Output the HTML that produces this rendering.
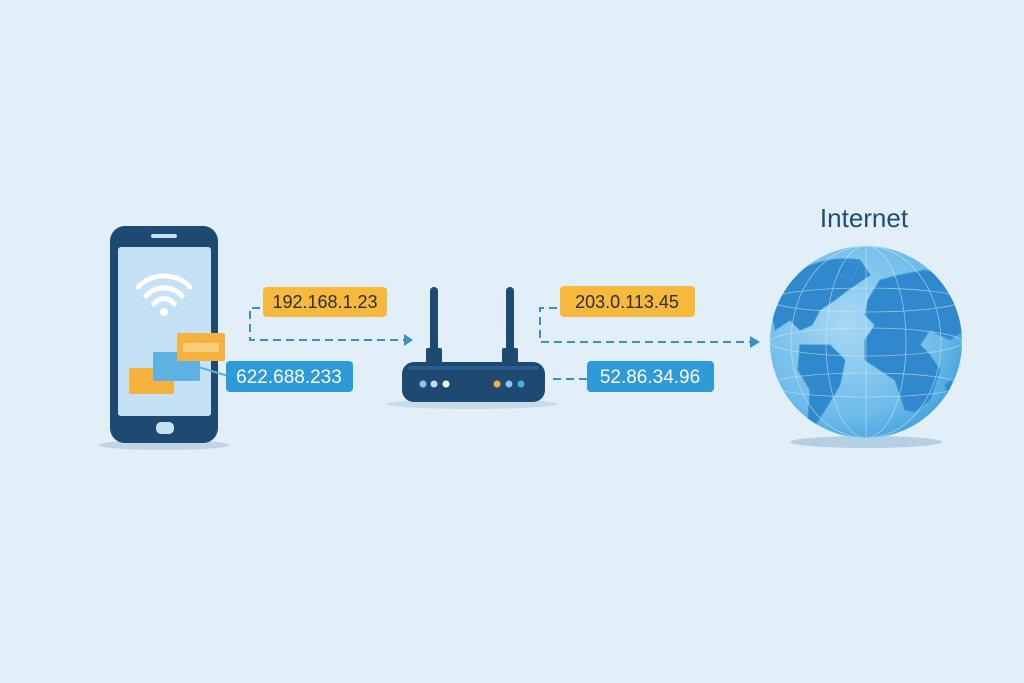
<!DOCTYPE html>
<html><head><style>
html,body{margin:0;padding:0;background:#e2eef8;}
svg{display:block}
text{font-family:"Liberation Sans",sans-serif}
</style></head><body>
<svg width="1024" height="683" viewBox="0 0 1024 683" xmlns="http://www.w3.org/2000/svg">
<defs>
<radialGradient id="g" cx="0.4" cy="0.4" r="0.7">
<stop offset="0" stop-color="#a9d8f3"/><stop offset="0.7" stop-color="#6cbbea"/><stop offset="1" stop-color="#3d9ddb"/>
</radialGradient>
<clipPath id="gc"><circle cx="866" cy="342" r="96"/></clipPath>
</defs>
<rect width="1024" height="683" fill="#e2eef8"/>
<!-- phone -->
<ellipse cx="164" cy="445" rx="66" ry="5" fill="#bfd5e6"/>
<rect x="110" y="226" width="108" height="217" rx="15" fill="#1e4a72"/>
<rect x="118" y="247" width="93" height="169" rx="3" fill="#c5e1f5"/>
<rect x="151" y="234" width="26" height="4" rx="2" fill="#c5e1f5"/>
<rect x="156" y="422" width="18" height="12" rx="5" fill="#c5e1f5"/>
<g fill="none" stroke="#fff" stroke-width="5" stroke-linecap="round">
<path d="M138 287 A36 36 0 0 1 190 287"/>
<path d="M146 296 A24 24 0 0 1 182 296"/>
<path d="M154 304 A12 12 0 0 1 174 304"/>
</g>
<circle cx="164" cy="312" r="4" fill="#fff"/>
<rect x="129" y="368" width="45" height="26" rx="2" fill="#f5b13d"/>
<rect x="153" y="352" width="47" height="29" rx="2" fill="#5eb1e2"/>
<line x1="195" y1="366" x2="228" y2="376" stroke="#5eb1e2" stroke-width="2"/>
<rect x="177" y="333" width="48" height="28" rx="2" fill="#f5b13d"/>
<rect x="183" y="343" width="36" height="9" fill="#f9cd7a"/>
<!-- labels -->
<rect x="263" y="287" width="124" height="30" rx="4" fill="#f6b93b"/>
<text x="325" y="308" font-size="18" text-anchor="middle" fill="#2b2f36">192.168.1.23</text>
<rect x="226" y="361" width="127" height="31" rx="4" fill="#2e9ad8"/>
<text x="289" y="383" font-size="19" text-anchor="middle" fill="#fff">622.688.233</text>
<rect x="560" y="286" width="135" height="31" rx="4" fill="#f6b93b"/>
<text x="627" y="308" font-size="18" text-anchor="middle" fill="#2b2f36">203.0.113.45</text>
<rect x="587" y="361" width="127" height="31" rx="4" fill="#2e9ad8"/>
<text x="650" y="383" font-size="19" text-anchor="middle" fill="#fff">52.86.34.96</text>
<!-- dashed connectors -->
<g fill="none" stroke="#3c8fc6" stroke-width="2" stroke-dasharray="8 5">
<path d="M260 308 H250 V340 H404"/>
<path d="M557 308 H540 V342 H752"/>
<path d="M553 379 H587"/>
</g>
<path d="M404 334 L413 340 L404 346 Z" fill="#3c8fc6"/>
<path d="M750 336 L760 342 L750 348 Z" fill="#3c8fc6"/>
<!-- router -->
<ellipse cx="472" cy="404" rx="86" ry="5" fill="#c7dbea"/>
<rect x="430" y="287" width="8" height="70" rx="4" fill="#1e4a72"/>
<rect x="506" y="287" width="8" height="70" rx="4" fill="#1e4a72"/>
<rect x="426" y="348" width="16" height="16" rx="2" fill="#1e4a72"/>
<rect x="502" y="348" width="16" height="16" rx="2" fill="#1e4a72"/>
<rect x="402" y="362" width="143" height="40" rx="12" fill="#1e4a72"/>
<rect x="408" y="366" width="131" height="4" rx="2" fill="#2c5d8a"/>
<circle cx="423" cy="384" r="3.5" fill="#8cc6ee"/>
<circle cx="434" cy="384" r="3.5" fill="#b8dcf5"/>
<circle cx="446" cy="384" r="3.5" fill="#fff"/>
<circle cx="497" cy="384" r="3.5" fill="#f5b13d"/>
<circle cx="509" cy="384" r="3.5" fill="#8cc6ee"/>
<circle cx="521" cy="384" r="3.5" fill="#3fb3d8"/>
<!-- globe -->
<text x="864" y="227" font-size="26" text-anchor="middle" fill="#1f4d75">Internet</text>
<ellipse cx="866" cy="442" rx="76" ry="6" fill="#b5cfe3"/>
<circle cx="866" cy="342" r="96" fill="url(#g)"/>
<g clip-path="url(#gc)" fill="#3089cc" stroke="#3d95d3" stroke-width="1">
<path d="M770 300 C790 265 830 255 860 260 L870 275 L848 290 L835 300 L820 310 L812 325 L800 330 L790 320 L775 330 Z"/>
<path d="M838 262 L860 262 L852 280 L840 275 Z"/>
<path d="M800 345 L830 345 L845 360 L840 385 L825 410 L815 425 L808 420 L810 390 L798 370 Z"/>
<path d="M868 300 L880 280 L900 275 L925 270 L960 280 L965 330 L950 340 L930 330 L920 345 L930 355 L940 370 L930 400 L915 412 L905 410 L895 380 L880 370 L865 360 L865 340 L875 325 L865 315 Z"/>
<path d="M945 385 L952 380 L948 400 Z"/>
</g>
<g clip-path="url(#gc)" fill="none" stroke="#d6eefb" stroke-width="0.8" opacity="0.6">
<ellipse cx="866" cy="342" rx="40" ry="96"/>
<ellipse cx="866" cy="342" rx="75" ry="96"/>
<line x1="866" y1="246" x2="866" y2="438"/>
<ellipse cx="866" cy="300" rx="96" ry="12"/>
<ellipse cx="866" cy="342" rx="96" ry="14"/>
<ellipse cx="866" cy="385" rx="96" ry="12"/>
</g>
</svg>
</body></html>
